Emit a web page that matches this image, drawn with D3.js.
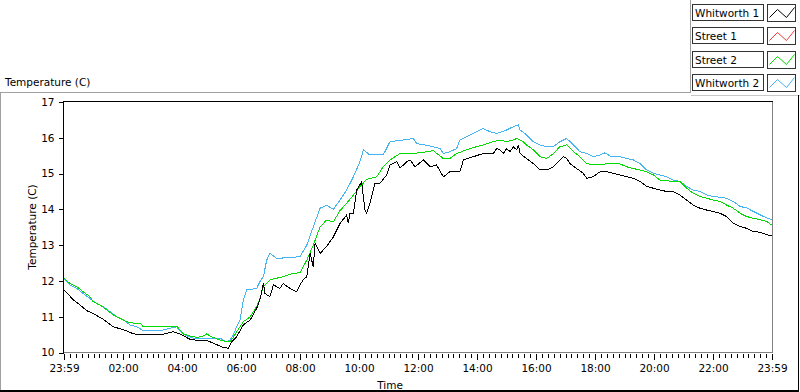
<!DOCTYPE html>
<html>
<head>
<meta charset="utf-8">
<script src="https://cdn.jsdelivr.net/npm/d3@7"></script>
<style>
  html, body { margin: 0; padding: 0; background: #fff; }
  svg { display: block; }
  text { font-family: "DejaVu Sans", sans-serif; font-size: 10.5px; fill: #000; }
</style>
</head>
<body>
<svg id="chart" width="800" height="392"></svg>
<script>
// ---------- DATA (hour of day, temperature °C) ----------
const seriesNames = ["Whitworth 1", "Street 1", "Street 2", "Whitworth 2"];
const seriesColors = ["#000000", "#f03c3c", "#00dc00", "#46b4f0"];

const xTickHours = [0, 2, 4, 6, 8, 10, 12, 14, 16, 18, 20, 22, 24];
const xTickLabels = ["23:59", "02:00", "04:00", "06:00", "08:00", "10:00", "12:00", "14:00", "16:00", "18:00", "20:00", "22:00", "23:59"];
const yTicks = [10, 11, 12, 13, 14, 15, 16, 17];

const whitworth1 = [
  [0,11.75],[0.32,11.47],[0.54,11.33],[0.77,11.17],[0.99,11.09],[1.33,10.93],[1.67,10.72],[2.12,10.61],
  [2.35,10.52],[2.80,10.49],[3.25,10.49],[3.71,10.58],[3.93,10.52],[4.27,10.37],[4.61,10.33],[4.84,10.34],
  [5.06,10.26],[5.40,10.14],[5.57,10.12],[5.68,10.30],[5.85,10.44],[6.08,10.77],[6.31,10.91],[6.53,11.23],
  [6.64,11.47],[6.76,11.93],[6.81,11.65],[6.98,11.56],[7.10,11.89],[7.32,11.79],[7.43,11.93],[7.66,11.79],
  [7.89,11.70],[8.00,11.89],[8.11,12.03],[8.23,12.12],[8.34,12.77],[8.45,12.40],[8.51,13.05],[8.68,12.77],
  [8.90,12.96],[9.13,13.23],[9.36,13.61],[9.58,13.84],[9.64,13.61],[9.69,13.89],[9.81,13.89],[9.92,14.54],
  [10.09,14.77],[10.20,13.98],[10.26,13.89],[10.37,14.17],[10.54,14.73],[10.71,14.73],[10.94,14.96],[11.05,15.24],
  [11.28,15.33],[11.39,15.15],[11.62,15.33],[11.73,15.38],[11.90,15.19],[12.18,15.38],[12.41,15.19],[12.63,15.24],
  [12.86,14.91],[13.08,15.05],[13.42,15.05],[13.54,15.38],[13.87,15.47],[14.21,15.56],[14.55,15.56],[14.67,15.70],
  [14.78,15.66],[14.89,15.56],[15.01,15.70],[15.12,15.61],[15.23,15.75],[15.35,15.66],[15.40,15.80],[15.46,15.56],
  [15.68,15.42],[15.91,15.28],[16.14,15.10],[16.36,15.10],[16.59,15.19],[16.81,15.38],[16.93,15.47],[17.04,15.42],
  [17.15,15.28],[17.38,15.14],[17.60,15.01],[17.72,14.87],[17.94,14.91],[18.17,15.05],[18.40,15.05],[18.62,15.01],
  [18.85,14.96],[19.07,14.91],[19.30,14.87],[19.53,14.78],[19.75,14.64],[19.98,14.59],[20.20,14.54],[20.43,14.50],
  [20.65,14.50],[20.88,14.40],[21.11,14.26],[21.33,14.12],[21.56,14.03],[21.79,13.98],[22.01,13.94],[22.24,13.89],
  [22.46,13.80],[22.69,13.61],[22.92,13.52],[23.14,13.47],[23.37,13.38],[23.59,13.36],[23.82,13.29],[23.99,13.26]
];

// Street 1 has no visible trace in the reference
const street1 = [];

const street2 = [
  [0,12.07],[0.20,11.93],[0.43,11.84],[0.65,11.70],[0.88,11.56],[0.99,11.42],[1.22,11.33],[1.45,11.19],
  [1.67,11.05],[1.90,10.95],[2.12,10.86],[2.35,10.82],[2.58,10.82],[2.69,10.72],[3.71,10.72],[3.82,10.74],
  [3.93,10.63],[4.04,10.52],[4.27,10.46],[4.50,10.42],[4.72,10.46],[4.84,10.52],[4.95,10.46],[5.06,10.42],
  [5.29,10.35],[5.51,10.30],[5.63,10.30],[5.74,10.42],[5.85,10.58],[5.97,10.72],[6.08,10.86],[6.31,11.00],
  [6.53,11.28],[6.64,11.51],[6.76,11.84],[6.98,12.03],[7.43,12.12],[7.77,12.21],[8.00,12.23],[8.23,12.58],
  [8.45,13.00],[8.68,13.51],[8.90,13.70],[9.13,13.65],[9.36,13.97],[9.58,14.17],[9.81,14.40],[10.03,14.63],
  [10.26,14.84],[10.60,14.91],[10.82,15.19],[11.05,15.38],[11.39,15.56],[11.84,15.56],[12.29,15.61],[12.52,15.64],
  [12.86,15.42],[13.08,15.42],[13.31,15.56],[13.76,15.70],[14.21,15.80],[14.55,15.89],[14.78,15.94],[15.01,15.89],
  [15.23,15.94],[15.35,15.98],[15.46,15.94],[15.57,15.89],[15.68,15.80],[15.91,15.66],[16.14,15.47],[16.36,15.42],
  [16.59,15.56],[16.81,15.75],[17.04,15.80],[17.27,15.61],[17.49,15.47],[17.72,15.28],[17.94,15.24],[18.17,15.24],
  [18.40,15.28],[18.62,15.28],[18.85,15.27],[19.07,15.19],[19.30,15.14],[19.53,15.10],[19.75,15.05],[19.98,14.96],
  [20.20,14.82],[20.43,14.80],[20.65,14.78],[20.88,14.78],[21.11,14.59],[21.33,14.45],[21.56,14.36],[21.79,14.31],
  [22.01,14.26],[22.24,14.22],[22.46,14.12],[22.69,14.03],[22.92,13.89],[23.14,13.80],[23.37,13.75],[23.59,13.71],
  [23.82,13.66],[23.99,13.56]
];

const whitworth2 = [
  [0,12.07],[0.20,11.89],[0.43,11.79],[0.65,11.65],[0.88,11.51],[1.10,11.37],[1.33,11.28],[1.56,11.14],
  [1.79,11.00],[2.01,10.91],[2.24,10.77],[2.46,10.72],[2.69,10.61],[3.03,10.61],[3.37,10.63],[3.60,10.68],
  [3.82,10.72],[3.93,10.61],[4.16,10.46],[4.38,10.40],[5.29,10.40],[5.51,10.30],[5.63,10.35],[5.74,10.49],
  [5.85,10.72],[5.97,10.91],[6.08,11.47],[6.20,11.75],[6.53,11.79],[6.64,11.98],[6.76,12.12],[6.87,12.58],
  [6.98,12.77],[7.21,12.63],[7.77,12.66],[8.00,12.68],[8.23,13.00],[8.45,13.51],[8.68,14.03],[8.90,14.12],
  [9.13,14.00],[9.36,14.26],[9.58,14.54],[9.81,14.91],[10.03,15.33],[10.15,15.66],[10.37,15.52],[10.82,15.52],
  [11.05,15.89],[11.50,15.94],[11.84,15.98],[11.96,15.84],[12.41,15.77],[12.75,15.70],[12.86,15.56],[13.08,15.61],
  [13.31,15.70],[13.42,15.94],[13.76,16.08],[14.21,16.26],[14.44,16.17],[14.67,16.12],[15.01,16.22],[15.23,16.31],
  [15.40,16.36],[15.46,16.22],[15.68,16.08],[15.91,15.89],[16.14,15.80],[16.36,15.75],[16.59,15.75],[16.81,15.89],
  [17.04,15.98],[17.27,15.80],[17.49,15.61],[17.72,15.56],[17.94,15.47],[18.17,15.52],[18.34,15.58],[18.51,15.49],
  [18.85,15.47],[19.07,15.42],[19.30,15.38],[19.53,15.28],[19.75,15.10],[19.98,15.01],[20.20,14.96],[20.43,14.91],
  [20.65,14.82],[20.88,14.78],[21.11,14.64],[21.33,14.54],[21.56,14.50],[21.79,14.40],[22.01,14.36],[22.24,14.34],
  [22.46,14.31],[22.69,14.22],[22.92,14.08],[23.14,14.04],[23.37,13.94],[23.59,13.85],[23.82,13.76],[23.99,13.71]
];

// ---------- LAYOUT ----------
const svg = d3.select("#chart");
const plot = { left: 64, right: 772, top: 102, bottom: 352.5 };

const x = d3.scaleLinear().domain([0, 24]).range([plot.left, plot.right]);
const y = d3.scaleLinear().domain([10, 17]).range([plot.bottom, plot.top]);

svg.append("rect").attr("width", 800).attr("height", 392).attr("fill", "#fff");

// outer panel borders
const g0 = svg.append("g").attr("shape-rendering", "crispEdges").attr("fill", "none");
g0.append("path").attr("d", "M0,92.5H690.5V0").attr("stroke", "#a0a0a0");
g0.append("path").attr("d", "M690.5,95.5H800").attr("stroke", "#c8c8c8");
g0.append("path").attr("d", "M0.5,92.5V392").attr("stroke", "#a0a0a0");
g0.append("path").attr("d", "M798.5,95V391.5H0").attr("stroke", "#000").attr("stroke-width", 1);
g0.append("path").attr("d", "M0,390.5H798").attr("stroke", "#000");

// chart title
svg.append("text").attr("x", 5).attr("y", 86).text("Temperature (C)");

// plot frame
const gf = svg.append("g").attr("shape-rendering", "crispEdges").attr("fill", "none");
gf.append("path").attr("d", `M${plot.right + 0.5},${plot.top}V${plot.bottom}H${plot.left}`).attr("stroke", "#808080");

// data lines
const line = d3.line().x(d => x(d[0])).y(d => y(d[1]));
const drawOrder = [
  { data: whitworth2, color: seriesColors[3] },
  { data: street1, color: seriesColors[1] },
  { data: street2, color: seriesColors[2] },
  { data: whitworth1, color: seriesColors[0] }
];
const gl = svg.append("g");
drawOrder.forEach(s => {
  if (!s.data.length) return;
  gl.append("path")
    .datum(s.data)
    .attr("d", line)
    .attr("fill", "none")
    .attr("stroke", s.color)
    .attr("stroke-width", 1)
    .attr("shape-rendering", "crispEdges");
});

gf.append("path").attr("d", `M${plot.left - 0.5},${plot.bottom}V${plot.top - 0.5}H${plot.right + 1}`)
  .attr("stroke", "#000").attr("shape-rendering", "crispEdges").attr("fill", "none");

// y axis
const yAxis = d3.axisLeft(y).tickValues(yTicks).tickSize(5).tickSizeOuter(0).tickPadding(4)
  .tickFormat(d3.format("d"));
const gy = svg.append("g").attr("transform", `translate(${plot.left - 0.5},0)`).call(yAxis);
gy.select(".domain").remove();
gy.selectAll("line").attr("stroke", "#000").attr("shape-rendering", "crispEdges");
gy.selectAll("text").style("font-family", "DejaVu Sans").style("font-size", "10.5px").attr("fill", "#000");

// x axis minor ticks (every 12 min)
const minorTicks = d3.range(0, 24.001, 0.2);
const xMinor = d3.axisBottom(x).tickValues(minorTicks).tickSize(4).tickFormat("").tickSizeOuter(0);
const gxm = svg.append("g").attr("transform", `translate(0,${plot.bottom + 1})`).call(xMinor);
gxm.select(".domain").remove();
gxm.selectAll("line").attr("stroke", "#000").attr("shape-rendering", "crispEdges");

// x axis major ticks
const xAxis = d3.axisBottom(x).tickValues(xTickHours).tickSize(6).tickSizeOuter(0).tickPadding(5)
  .tickFormat((d, i) => xTickLabels[i]);
const gx = svg.append("g").attr("transform", `translate(0,${plot.bottom + 1})`).call(xAxis);
gx.select(".domain").remove();
gx.selectAll("line").attr("stroke", "#000").attr("shape-rendering", "crispEdges");
gx.selectAll("text").style("font-family", "DejaVu Sans").style("font-size", "10.5px").attr("fill", "#000");

// axis titles
svg.append("text").attr("x", 390).attr("y", 389).attr("text-anchor", "middle").text("Time");
svg.append("text")
  .attr("transform", "translate(36,227) rotate(-90)")
  .attr("text-anchor", "middle")
  .attr("fill", "#3a1414")
  .text("Temperature (C)");

// legend
const legend = svg.append("g");
seriesNames.forEach((name, i) => {
  const top = 4 + i * 23.4;
  const r = Math.round(top);
  const g = legend.append("g").attr("transform", `translate(0,${r})`);
  g.append("rect").attr("x", 692.5).attr("y", 0.5).attr("width", 71).attr("height", 16)
    .attr("fill", "#fff").attr("stroke", "#333").attr("shape-rendering", "crispEdges");
  g.append("text").attr("x", 695).attr("y", 12.5).text(name);
  g.append("rect").attr("x", 767.5).attr("y", 0.5).attr("width", 28).attr("height", 17)
    .attr("fill", "#fff").attr("stroke", "#333").attr("shape-rendering", "crispEdges");
  g.append("path").attr("d", "M769.5,13.5L777.5,5.5L786.5,13.5L794.5,3.5")
    .attr("fill", "none").attr("stroke", seriesColors[i]).attr("stroke-width", 1);
});
</script>
</body>
</html>
